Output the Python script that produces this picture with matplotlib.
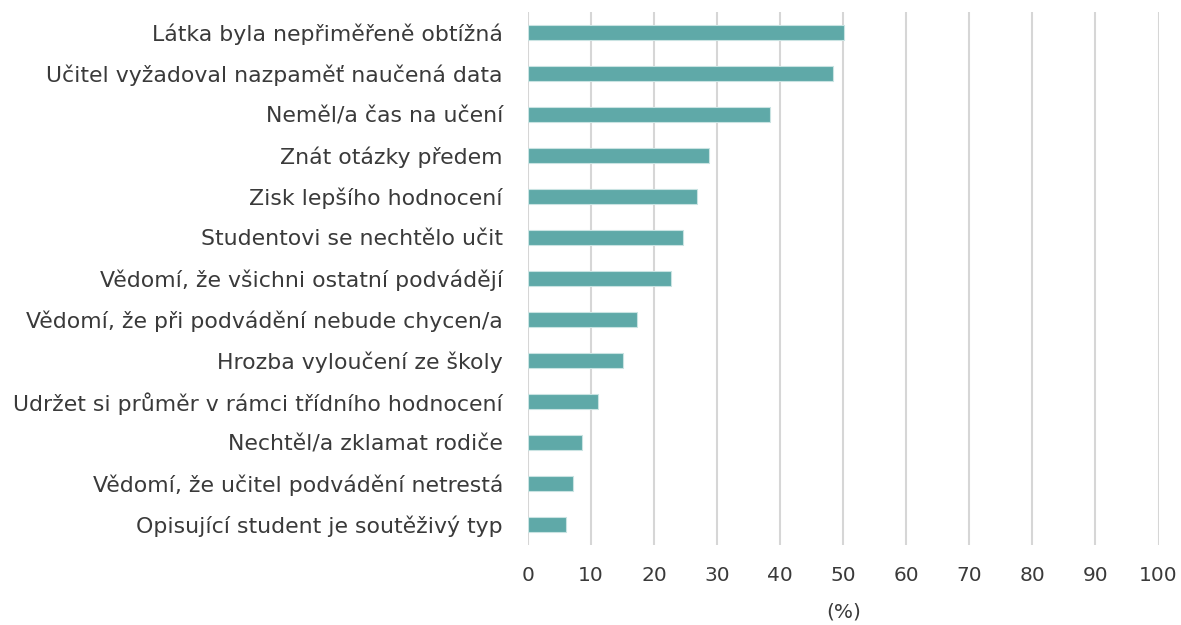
import numpy as np
import matplotlib
matplotlib.use('Agg')
import matplotlib.pyplot as plt

# ── 資料 ──
labels = [
    'Látka byla nepřiměřeně obtížná',
    'Učitel vyžadoval nazpaměť naučená data',
    'Neměl/a čas na učení',
    'Znát otázky předem',
    'Zisk lepšího hodnocení',
    'Studentovi se nechtělo učit',
    'Vědomí, že všichni ostatní podvádějí',
    'Vědomí, že při podvádění nebude chycen/a',
    'Hrozba vyloučení ze školy',
    'Udržet si průměr v rámci třídního hodnocení',
    'Nechtěl/a zklamat rodiče',
    'Vědomí, že učitel podvádění netrestá',
    'Opisující student je soutěživý typ',
]
values = [50.1, 48.3, 38.4, 28.7, 26.8, 24.6, 22.7, 17.3, 15.1, 11.1, 8.6, 7.1, 6.0]
xticks = list(range(0, 101, 10))

BAR_COLOR = '#5fa9a8'
TEXT_COLOR = '#3a3a3a'

plt.rcParams['font.family'] = ['DejaVu Sans']

fig = plt.figure(figsize=(11.81, 6.25), dpi=100)
ax = fig.add_axes([0.447, 0.128, 0.534, 0.853])

y = np.arange(len(labels))
ax.barh(y, values, height=0.35, color=BAR_COLOR, edgecolor='#c9e3e2', linewidth=0.8, zorder=3)

ax.set_ylim(len(labels) - 0.5, -0.5)
ax.set_xlim(0, 100)
ax.set_xticks(xticks)
ax.set_yticks(y)
ax.set_yticklabels(labels, fontsize=15.8)
ax.tick_params(axis='both', length=0, colors=TEXT_COLOR)
ax.tick_params(axis='x', pad=15, labelsize=14.5)
ax.tick_params(axis='y', pad=18)
ax.xaxis.grid(True, color='#d6d6d6', linewidth=1.5, zorder=0)
ax.set_axisbelow(True)
for s in ax.spines.values():
    s.set_visible(False)
ax.set_xlabel('(%)', fontsize=14.5, color=TEXT_COLOR, labelpad=13)

fig.savefig('out.png', dpi=100)
